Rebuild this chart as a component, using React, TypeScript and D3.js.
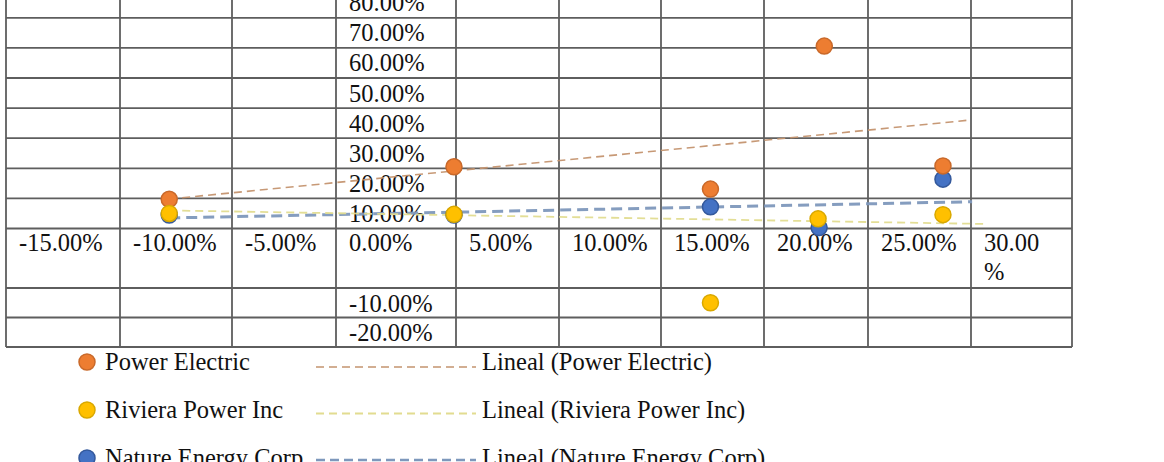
import React from "react";
import * as d3 from "d3";

// ---- data ----
const xTicks = [-0.15, -0.1, -0.05, 0, 0.05, 0.1, 0.15, 0.2, 0.25, 0.3];
const yTicksPos = [0.1, 0.2, 0.3, 0.4, 0.5, 0.6, 0.7, 0.8];
const yTicksNeg = [-0.1, -0.2];

const powerX = [-0.103, 0.026, 0.149, 0.204, 0.2615];
const powerY = [0.097, 0.205, 0.131, 0.606, 0.208];
const rivieraX = [-0.103, 0.026, 0.149, 0.201, 0.2615];
const rivieraY = [0.05, 0.047, -0.15, 0.032, 0.046];
const natureX = [-0.103, 0.026, 0.149, 0.2015, 0.2615];
const natureY = [0.045, 0.045, 0.072, 0.003, 0.164];

const powerTrend = [[-0.103, 0.098], [0.2743, 0.36]];
const rivieraTrend = [[-0.103, 0.06], [0.283, 0.015]];
const natureTrend = [[-0.103, 0.035], [0.2758, 0.089]];

const seriesNames = ["Power Electric", "Riviera Power Inc", "Nature Energy Corp"];

// ---- layout ----
const W = 1164;
const H = 462;
const colEdges = [6, 120, 232, 336, 456, 559, 661, 764, 868, 971, 1072];
const FONT = "'Liberation Serif', 'Times New Roman', serif";
const FS = 24.5;

const colors = {
  power: { fill: "#ED7D31", stroke: "#C9692A", trend: "#C4946F" },
  riviera: { fill: "#FFC000", stroke: "#D9A800", trend: "#E2DC90" },
  nature: { fill: "#4472C4", stroke: "#34599C", trend: "#7E98BC" },
};

export default function App() {
  const centers = colEdges.slice(0, -1).map((e, i) => (e + colEdges[i + 1]) / 2);
  const x = d3.scaleLinear().domain(xTicks).range(centers);
  const y = d3
    .scaleLinear()
    .domain([-0.3, -0.1, 0, 0.8])
    .range([347, 288, 228.5, 228.5 - 0.8 * 301]);

  const gridTop = 0;
  const gridBottom = y(-0.3);
  const hLines = [...yTicksPos, 0, ...yTicksNeg, -0.3].map((v) => y(v));

  const series = [
    { key: "nature", xs: natureX, ys: natureY, trend: natureTrend, c: colors.nature, w: 3, dash: "11 6" },
    { key: "power", xs: powerX, ys: powerY, trend: powerTrend, c: colors.power, w: 1.6, dash: "8 5" },
    { key: "riviera", xs: rivieraX, ys: rivieraY, trend: rivieraTrend, c: colors.riviera, w: 1.8, dash: "8 5" },
  ];

  const line = d3
    .line<number[]>()
    .x((d) => x(d[0]))
    .y((d) => y(d[1]));

  const legend = [
    { name: seriesNames[0], c: colors.power, w: 1.6, dash: "8 5" },
    { name: seriesNames[1], c: colors.riviera, w: 1.8, dash: "8 5" },
    { name: seriesNames[2], c: colors.nature, w: 2.6, dash: "9 5" },
  ];

  const fmt = d3.format(".2%");
  const pct = (v: number) => fmt(v).replace("\u2212", "-");

  return (
    <svg
      width={W}
      height={H}
      style={{ position: "absolute", left: 0, top: 0, background: "#fff" }}
      fontFamily={FONT}
    >
      <rect x={0} y={0} width={W} height={H} fill="#fff" />
      {/* grid */}
      <g stroke="#5e5e5e" strokeWidth={1.8}>
        {colEdges.map((e, i) => (
          <line key={"v" + i} x1={e} x2={e} y1={gridTop} y2={gridBottom} />
        ))}
        {hLines.map((yy, i) => (
          <line key={"h" + i} x1={colEdges[0]} x2={colEdges[colEdges.length - 1]} y1={yy} y2={yy} />
        ))}
      </g>

      {/* y tick labels (inside the 0% column) */}
      <g fontSize={FS} fill="#111">
        {[...yTicksPos, ...yTicksNeg].map((v, i) => (
          <text key={"yt" + i} x={colEdges[3] + 13} y={y(v) + 15} dy="0.35em">
            {pct(v)}
          </text>
        ))}
      </g>

      {/* x tick labels */}
      <g fontSize={FS} fill="#111">
        {xTicks.map((v, i) => {
          const s = pct(v);
          const last = i === xTicks.length - 1;
          return (
            <text key={"xt" + i} x={colEdges[i] + 13} y={y(0) + 14} dy="0.35em">
              {last ? (
                <>
                  <tspan>{s.slice(0, -1)}</tspan>
                  <tspan x={colEdges[i] + 13} dy={29}>
                    %
                  </tspan>
                </>
              ) : (
                s
              )}
            </text>
          );
        })}
      </g>

      {/* trend lines */}
      {series.map((s) => (
        <path
          key={"t" + s.key}
          d={line(s.trend) || ""}
          fill="none"
          stroke={s.c.trend}
          strokeWidth={s.w}
          strokeDasharray={s.dash}
          opacity={0.95}
        />
      ))}

      {/* markers */}
      {series.map((s) => (
        <g key={"m" + s.key}>
          {s.xs.map((xv, i) => (
            <circle
              key={i}
              cx={x(xv)}
              cy={y(s.ys[i])}
              r={8}
              fill={s.c.fill}
              stroke={s.c.stroke}
              strokeWidth={1.5}
            />
          ))}
        </g>
      ))}

      {/* legend */}
      <g fontSize={FS} fill="#111">
        {legend.map((l, i) => {
          const cy = 362 + i * 48;
          const ly = 367 + i * 46.5;
          return (
            <g key={"lg" + i}>
              <circle cx={87} cy={cy} r={8} fill={l.c.fill} stroke={l.c.stroke} strokeWidth={1.5} />
              <text x={105} y={cy} dy="0.33em">
                {l.name}
              </text>
              <line
                x1={316}
                x2={476}
                y1={ly}
                y2={ly}
                stroke={l.c.trend}
                strokeWidth={l.w}
                strokeDasharray={l.dash}
              />
              <text x={482} y={cy} dy="0.33em">
                {"Lineal (" + l.name + ")"}
              </text>
            </g>
          );
        })}
      </g>
    </svg>
  );
}
